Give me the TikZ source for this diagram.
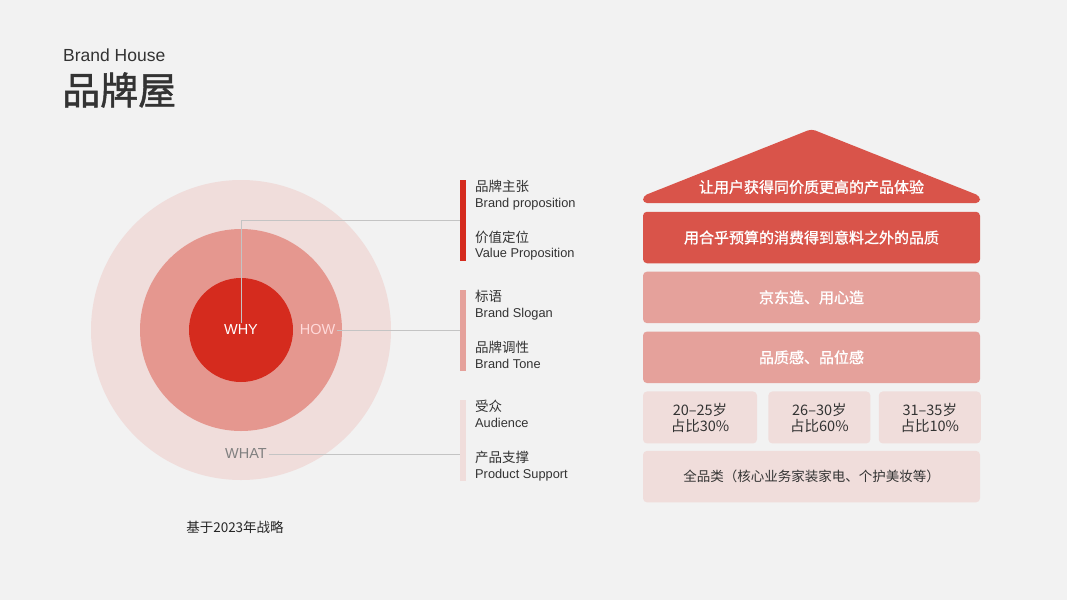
\documentclass[tikz,border=0pt]{standalone}
\usepackage{fontspec}
\setmainfont{Liberation Sans}
\newfontfamily\cjk{Noto Sans CJK SC}
\newfontfamily\cjkmed[FakeBold=1.2]{Noto Sans CJK SC}
\usetikzlibrary{positioning}
\definecolor{pagegray}{HTML}{F2F2F2}
\definecolor{deepred}{HTML}{D52B1E}
\definecolor{housered}{HTML}{D9544A}
\definecolor{midpink}{HTML}{E5A19B}
\definecolor{ringpink}{HTML}{E5978F}
\definecolor{palepink}{HTML}{F0DDDB}
\definecolor{inkgray}{HTML}{333333}
\definecolor{leadgray}{HTML}{C4C4C4}

\begin{document}
\begin{tikzpicture}[x=1pt, y=-1pt,
  ring/.style={circle, inner sep=0pt, draw=none},
  tag/.style={inner sep=1.5pt, font=\fontsize{14.5}{17}\selectfont},
  bar/.style={rectangle, inner sep=0pt, minimum width=6pt, minimum height=81pt},
  cnlabel/.style={anchor=west, inner sep=0pt, text=inkgray,
                  font=\cjk\fontsize{13.5}{16}\selectfont},
  enlabel/.style={anchor=base west, inner sep=0pt, text=inkgray,
                  font=\fontsize{12.8}{15}\selectfont},
  layer/.style={rectangle, rounded corners=4pt, minimum width=337pt,
                minimum height=51.5pt, inner sep=0pt, align=center,
                font=\cjkmed\fontsize{15}{18}\selectfont},
  agebox/.style={rectangle, rounded corners=4pt, minimum height=52pt,
                 inner sep=0pt, fill=palepink, text=inkgray, align=center,
                 font=\cjk\fontsize{14.5}{16}\selectfont},
  leader/.style={draw=leadgray, line width=0.7pt},
]
  % Page
  \fill[pagegray] (0,0) rectangle (1067,600);

  % Title
  \node[anchor=west, inner sep=0pt, text=inkgray, font=\fontsize{17.5}{20}\selectfont]
        (entitle) at (63,55) {Brand House};
  \node[anchor=west, inner sep=0pt, text=inkgray, font=\cjkmed\fontsize{38}{40}\selectfont]
        (cntitle) at (62,90) {品牌屋};

  % Golden circle
  \node[ring, fill=palepink, minimum size=300pt] (outer)  at (241,330) {};
  \node[ring, fill=ringpink, minimum size=202pt] (middle) at (241,330) {};
  \node[ring, fill=deepred,  minimum size=104pt] (inner)  at (241,330) {};
  \node[tag, text=white]         (why)  at (241,330)   {WHY};
  \node[tag, text=white!85!red]  (how)  at (317.5,330) {HOW};
  \node[tag, text=black!50]      (what) at (246,454)   {WHAT};

  % Legend bars
  \node[bar, fill=deepred]  (bar1) at (463,220.5) {};
  \node[bar, fill=midpink]  (bar2) at (463,330)   {};
  \node[bar, fill=palepink] (bar3) at (463,440)   {};

  % Legend texts
  \node[cnlabel] (prop)     at (475,186)   {品牌主张};
  \node[enlabel] (propen)   at (475,207)   {Brand proposition};
  \node[cnlabel] (value)    at (475,237.5) {价值定位};
  \node[enlabel] (valueen)  at (475,257.5) {Value Proposition};
  \node[cnlabel] (slogan)   at (475,296.5) {标语};
  \node[enlabel] (sloganen) at (475,317)   {Brand Slogan};
  \node[cnlabel] (tone)     at (475,347.5) {品牌调性};
  \node[enlabel] (toneen)   at (475,368.5) {Brand Tone};
  \node[cnlabel] (aud)      at (475,406)   {受众};
  \node[enlabel] (auden)    at (475,427)   {Audience};
  \node[cnlabel] (support)  at (475,457.5) {产品支撑};
  \node[enlabel] (supporten) at (475,478.5) {Product Support};

  % Leader lines
  \draw[leader] (why.north) |- (bar1.west);
  \draw[leader] (how.east) -- (bar2.west);
  \draw[leader] (what.east) -- (what.east -| bar3.west);

  % House
  \fill[housered, rounded corners=4pt] (643,203) -- (643,196) -- (811.5,129)
        -- (980,196) -- (980,203) -- cycle;
  \node[text=white, font=\cjkmed\fontsize{15}{18}\selectfont]
        (roof) at (811.5,187) {让用户获得同价质更高的产品体验};
  \node[layer, fill=housered, text=white] (promise) at (811.5,237.5)
        {用合乎预算的消费得到意料之外的品质};
  \node[layer, fill=midpink, text=white, below=8pt of promise] (made)
        {京东造、用心造};
  \node[layer, fill=midpink, text=white, below=8pt of made] (quality)
        {品质感、品位感};
  \node[agebox, minimum width=114pt, below right=8pt and 0pt of quality.south west] (age1)
        {20–25岁\\占比30\%};
  \node[agebox, minimum width=102pt, right=11pt of age1] (age2)
        {26–30岁\\占比60\%};
  \node[agebox, minimum width=102pt, right=8pt of age2] (age3)
        {31–35岁\\占比10\%};
  \coordinate (cattop) at (age1.south -| quality.south);
  \node[layer, fill=palepink, text=inkgray, font=\cjk\fontsize{13.5}{16}\selectfont,
        below=7pt of cattop] (category) {全品类（核心业务家装家电、个护美妆等）};

  % Footnote
  \node[text=black!85, font=\cjk\fontsize{13.5}{16}\selectfont] (basis) at (235,527)
        {基于2023年战略};
\end{tikzpicture}
\end{document}
